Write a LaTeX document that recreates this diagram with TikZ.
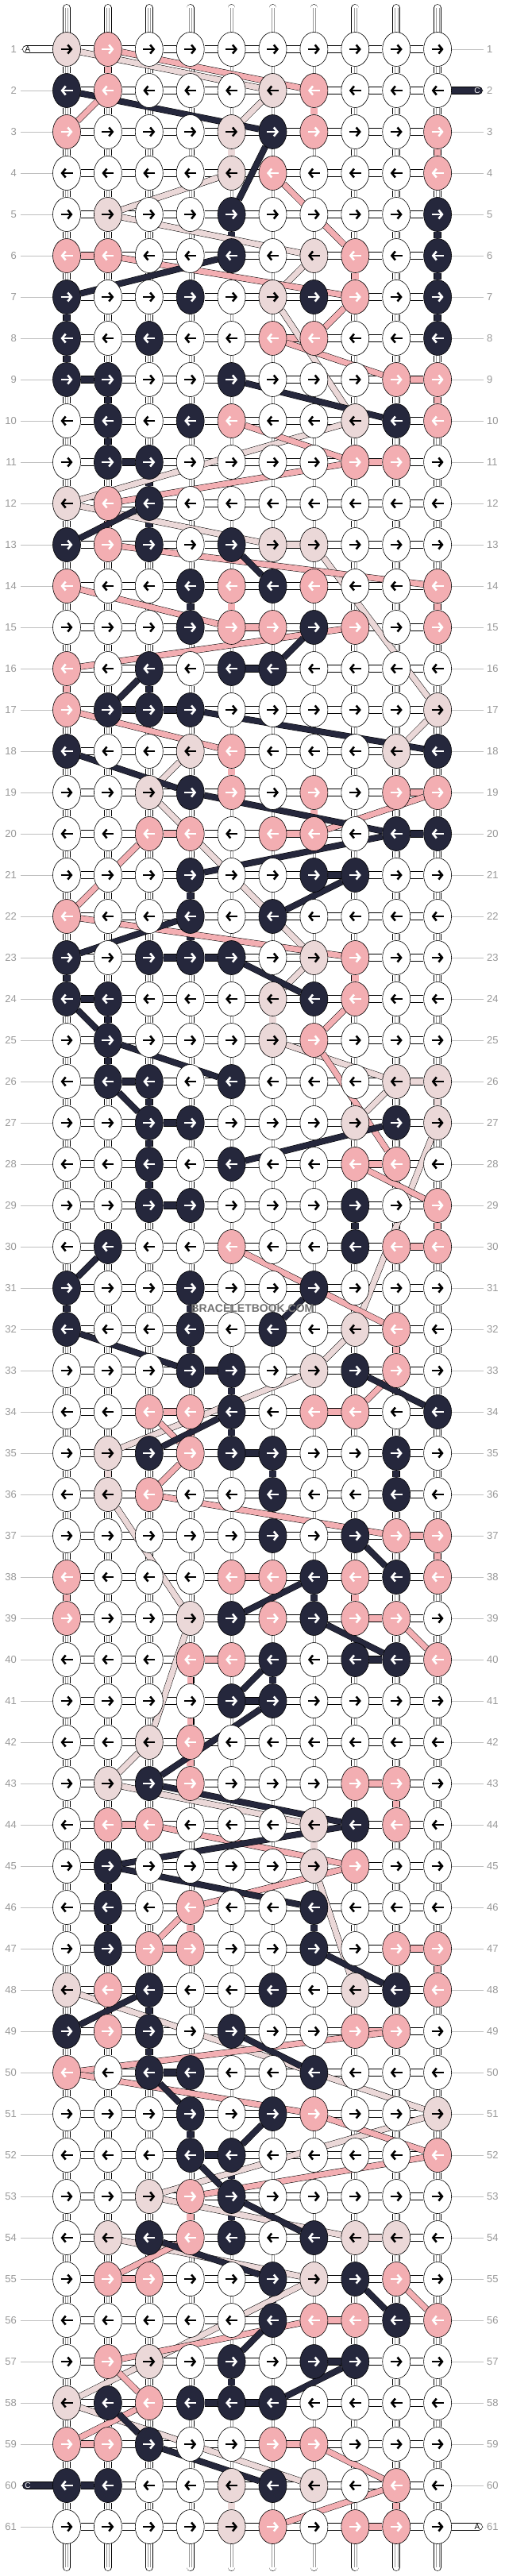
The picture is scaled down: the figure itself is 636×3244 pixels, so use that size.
\documentclass[tikz,border=0pt]{standalone}
\usepackage{fontspec}
\setmainfont{Liberation Sans}
\usetikzlibrary{shapes.geometric,arrows.meta,backgrounds}
\definecolor{kW}{HTML}{FFFFFF}
\definecolor{kD}{HTML}{25273C}
\definecolor{kP}{HTML}{F3AEB2}
\definecolor{kL}{HTML}{EBD8D8}
\colorlet{aW}{black}
\colorlet{aL}{black}
\colorlet{aP}{white}
\colorlet{aD}{white}
\tikzset{
  knot/.style={ellipse,draw=black,line width=0.6pt,minimum width=35pt,minimum height=43pt,inner sep=0pt,fill=k#1},
  band/.style={double=k#1,double distance=8.5pt,line width=0.6pt},
  ridge/.style={draw=black!40,line width=0.35pt},
  strand/.style={double=k#1,double distance=7pt,line width=0.5pt},
  pin/.style={draw=a#1,line width=2.6pt,-{Straight Barb[length=4.5pt,width=11pt]}},
  rowno/.style={text=black!40,font=\fontsize{13}{15}\selectfont,inner sep=0pt},
  guide/.style={draw=black!25,line width=0.6pt},
  tailtxt/.style={font=\fontsize{10}{12}\selectfont,inner sep=0pt},
  wmark/.style={font=\bfseries\fontsize{14}{14}\selectfont,text=black!55,inner sep=1pt}
}
\begin{document}
\begin{tikzpicture}[x=1pt,y=-1pt]
\useasboundingbox (0,0) rectangle (636,3244);
\foreach \r/\cols in {
 1/{L,P,W,W,W,W,W,W,W,W}, 2/{D,P,W,W,W,L,P,W,W,W}, 3/{P,W,W,W,L,D,P,W,W,P},
 4/{W,W,W,W,L,P,W,W,W,P}, 5/{W,L,W,W,D,W,W,W,W,D}, 6/{P,P,W,W,D,W,L,P,W,D},
 7/{D,W,W,D,W,L,D,P,W,D}, 8/{D,W,D,W,W,P,P,W,W,D}, 9/{D,D,W,W,D,W,W,W,P,P},
 10/{W,D,W,D,P,W,W,L,D,P}, 11/{W,D,D,W,W,W,W,P,P,W}, 12/{L,P,D,W,W,W,W,W,W,W},
 13/{D,P,D,W,D,L,L,W,W,W}, 14/{P,W,W,D,P,D,P,W,W,P}, 15/{W,W,W,D,P,P,D,P,W,P},
 16/{P,W,D,W,D,D,W,W,W,W}, 17/{P,D,D,D,W,W,W,W,W,L}, 18/{D,W,W,L,P,W,W,W,L,D},
 19/{W,W,L,D,P,W,P,W,P,P}, 20/{W,W,P,P,W,P,P,W,D,D}, 21/{W,W,W,D,W,W,D,D,W,W},
 22/{P,W,W,D,W,D,W,W,W,W}, 23/{D,W,D,D,D,W,L,P,W,W}, 24/{D,D,W,W,W,L,D,P,W,W},
 25/{W,D,W,W,W,L,P,W,W,W}, 26/{W,D,D,W,D,W,W,W,L,L}, 27/{W,W,D,D,W,W,W,L,D,L},
 28/{W,W,D,W,D,W,W,P,P,W}, 29/{W,W,D,D,W,W,W,D,W,P}, 30/{W,D,W,W,P,W,W,D,P,P},
 31/{D,W,W,D,W,W,D,W,W,W}, 32/{D,W,W,D,W,D,W,L,P,W}, 33/{W,W,W,D,D,W,L,D,P,W},
 34/{W,W,P,P,D,W,P,P,W,D}, 35/{W,L,D,P,D,D,W,W,D,W}, 36/{W,L,P,W,W,D,W,W,D,W},
 37/{W,W,W,W,W,D,W,D,P,P}, 38/{P,W,W,W,P,P,D,P,D,P}, 39/{P,W,W,L,D,P,D,P,P,W},
 40/{W,W,W,P,P,D,W,D,D,P}, 41/{W,W,W,W,D,D,W,W,W,W}, 42/{W,W,L,P,W,W,W,W,W,W},
 43/{W,L,D,P,W,W,W,P,P,W}, 44/{W,P,P,W,W,W,L,D,P,W}, 45/{W,D,W,W,W,W,L,P,W,W},
 46/{W,D,W,P,W,W,D,W,W,W}, 47/{W,D,P,P,W,W,D,W,P,P}, 48/{L,P,D,W,W,D,W,L,D,P},
 49/{D,P,D,W,D,W,W,P,P,W}, 50/{P,W,D,D,W,W,D,W,W,W}, 51/{W,W,W,D,W,D,P,W,W,L},
 52/{W,W,W,D,D,W,W,W,W,P}, 53/{W,W,L,P,D,W,W,W,W,W}, 54/{W,L,D,P,D,W,D,L,L,W},
 55/{W,P,P,W,W,D,L,D,P,W}, 56/{W,W,W,W,W,D,P,P,D,P}, 57/{W,P,L,W,D,W,D,D,W,W},
 58/{L,D,P,D,D,D,W,W,W,W}, 59/{P,P,D,W,W,P,P,W,W,W}, 60/{D,D,W,W,L,D,L,W,P,W},
 61/{W,W,W,W,L,P,W,P,P,W}}{
  \foreach \k [count=\c] in \cols {
    \expandafter\xdef\csname kc@\r @\c\endcsname{\k}
    \node[knot=\k] (k-\r-\c) at ({84+51.9*(\c-1)},{62+52*(\r-1)}) {};
    \pgfmathtruncatemacro\dir{mod(\r,2)==1 ? 1 : -1}
    \draw[pin=\k] ([xshift={-7.5*\dir}]k-\r-\c.center) -- ([xshift={7.5*\dir}]k-\r-\c.center);
  }
}
\foreach \r in {1,...,61}{
  \node[rowno,anchor=east] (ll-\r) at (21,{62+52*(\r-1)}) {\r};
  \node[rowno,anchor=west] (rl-\r) at (613,{62+52*(\r-1)}) {\r};
}
\begin{pgfonlayer}{background}
\fill[white] (0,0) rectangle (636,3244);
\foreach \r in {1,...,61}{
  \draw[guide,shorten <=5pt] (ll-\r.east) -- (k-\r-1);
  \draw[guide,shorten <=4pt] (rl-\r.west) -- (k-\r-10);
}
\foreach \c in {1,...,10}{
  \path (k-1-\c) ++(0,-52) coordinate (up-\c);
  \path (k-61-\c) ++(0,51) coordinate (dn-\c);
  \draw[band=W,line cap=round] (up-\c) -- (k-1-\c);
  \draw[band=W,line cap=round] (dn-\c) -- (k-61-\c);
  \draw[ridge] ([xshift=-1.6pt]up-\c) -- ([xshift=-1.6pt]k-1-\c.center);
  \draw[ridge] ([xshift=1.6pt]up-\c) -- ([xshift=1.6pt]k-1-\c.center);
  \draw[ridge] ([xshift=-1.6pt]dn-\c) -- ([xshift=-1.6pt]k-61-\c.center);
  \draw[ridge] ([xshift=1.6pt]dn-\c) -- ([xshift=1.6pt]k-61-\c.center);
}
\foreach \r in {1,...,61}{
  \foreach \c [evaluate=\c as \n using {int(\c+1)}] in {1,...,9}{
    \edef\ca{\csname kc@\r @\c\endcsname}\edef\cb{\csname kc@\r @\n\endcsname}
    \ifx\ca\cb\else\def\ca{W}\fi
    \draw[band=\ca] (k-\r-\c) -- (k-\r-\n);
  }
}
\foreach \r [evaluate=\r as \s using {int(\r+1)}] in {1,...,60}{
  \foreach \c in {1,...,10}{
    \edef\ca{\csname kc@\r @\c\endcsname}\edef\cb{\csname kc@\s @\c\endcsname}
    \def\cw{W}
    \ifx\ca\cb\else\def\ca{W}\fi
    \draw[band=\ca] (k-\r-\c) -- (k-\s-\c);
    \ifx\ca\cw
      \draw[ridge] ([xshift=-1.6pt]k-\r-\c.center) -- ([xshift=-1.6pt]k-\s-\c.center);
      \draw[ridge] ([xshift=1.6pt]k-\r-\c.center) -- ([xshift=1.6pt]k-\s-\c.center);
    \fi
  }
}
\foreach \ya/\xa/\yb/\xb/\k in {
 1/1/2/6/L, 2/6/3/5/L, 4/5/5/2/L, 5/2/6/7/L, 6/7/7/6/L, 7/6/10/8/L, 10/8/12/1/L,
 12/1/13/6/L, 13/7/17/10/L, 17/10/18/9/L, 18/4/19/3/L, 19/3/23/7/L, 23/7/24/6/L,
 25/6/26/9/L, 26/9/27/8/L, 27/10/32/8/L, 32/8/33/7/L, 33/7/35/2/L, 36/2/39/4/L,
 39/4/42/3/L, 42/3/43/2/L, 43/2/44/7/L, 45/7/48/8/L, 48/1/51/10/L, 51/10/53/3/L,
 53/3/54/8/L, 54/2/55/7/L, 55/7/57/3/L, 57/3/58/1/L, 58/1/60/7/L,
 1/2/2/7/P, 2/2/3/1/P, 4/6/6/8/P, 6/2/7/8/P, 7/8/8/7/P, 8/6/9/9/P, 10/5/11/8/P,
 11/8/12/2/P, 13/2/14/10/P, 14/1/15/5/P, 15/8/16/1/P, 17/1/18/5/P, 19/10/20/7/P,
 20/3/22/1/P, 22/1/23/8/P, 24/8/25/7/P, 25/7/28/9/P, 28/8/29/10/P, 30/5/32/9/P,
 33/9/34/8/P, 34/3/35/4/P, 35/4/36/3/P, 36/3/37/9/P, 39/9/40/10/P, 40/4/42/4/P,
 44/3/45/8/P, 45/8/46/4/P, 46/4/47/3/P, 49/9/50/1/P, 50/1/51/7/P, 51/7/52/10/P,
 52/10/53/4/P, 54/4/55/2/P, 55/9/56/10/P, 56/7/57/2/P, 57/2/58/3/P, 58/3/59/1/P,
 59/7/60/9/P, 60/9/61/6/P,
 2/1/3/6/D, 3/6/5/5/D, 6/5/7/1/D, 9/5/10/9/D, 12/3/13/1/D, 13/5/14/6/D, 15/7/16/6/D,
 16/3/17/2/D, 17/4/18/10/D, 18/1/19/4/D, 19/4/20/9/D, 20/9/21/4/D, 21/8/22/6/D,
 22/4/23/1/D, 23/5/24/7/D, 24/1/25/2/D, 25/2/26/5/D, 26/2/27/3/D, 27/9/28/5/D,
 30/2/31/1/D, 31/7/32/6/D, 32/1/33/4/D, 33/8/34/10/D, 34/5/35/3/D, 37/8/38/9/D,
 38/7/39/5/D, 39/7/40/9/D, 40/6/41/5/D, 41/6/43/3/D, 43/3/44/8/D, 44/8/45/2/D,
 45/2/46/7/D, 47/7/48/9/D, 48/3/49/1/D, 49/5/50/7/D, 50/3/51/4/D, 51/6/52/5/D,
 52/4/53/5/D, 53/5/54/7/D, 54/3/55/6/D, 55/8/56/9/D, 56/6/57/5/D, 57/8/58/6/D,
 58/2/59/3/D, 59/3/60/6/D}{
  \draw[strand=\k] (k-\ya-\xa) -- (k-\yb-\xb);
}
\coordinate (ta) at (33,62);
\coordinate (tc) at (603,114);
\coordinate (tc2) at (33,3130);
\coordinate (ta2) at (603,3182);
\draw[band=W,line cap=round] (ta) -- (k-1-1);
\draw[band=D,line cap=round] (tc) -- (k-2-10);
\draw[band=D,line cap=round] (tc2) -- (k-60-1);
\draw[band=W,line cap=round] (ta2) -- (k-61-10);
\end{pgfonlayer}
\node[tailtxt] (la) at (35,62) {A};
\node[tailtxt,text=white] (lc) at (601,114) {C};
\node[tailtxt,text=white] (lc2) at (35,3130) {C};
\node[tailtxt] (la2) at (601,3182) {A};
\node[wmark] (wm) at (318,1648) {BRACELETBOOK.COM};
\end{tikzpicture}
\end{document}
